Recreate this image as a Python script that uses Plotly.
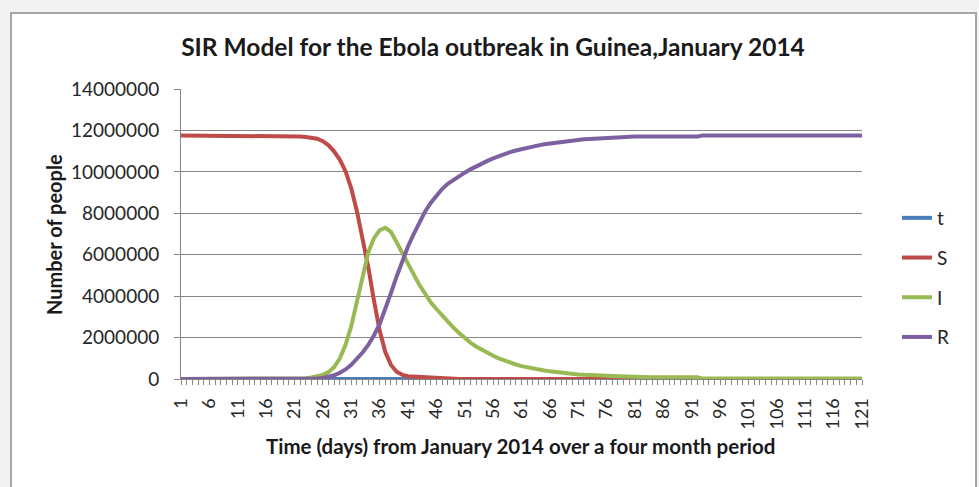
import plotly.graph_objects as go

# Day numbers (categories) and the "t" series (time in days)
days = [1, 2, 3, 4, 5, 6, 7, 8, 9, 10,
        11, 12, 13, 14, 15, 16, 17, 18, 19, 20,
        21, 22, 23, 24, 25, 26, 27, 28, 29, 30,
        31, 32, 33, 34, 35, 36, 37, 38, 39, 40,
        41, 42, 43, 44, 45, 46, 47, 48, 49, 50,
        51, 52, 53, 54, 55, 56, 57, 58, 59, 60,
        61, 62, 63, 64, 65, 66, 67, 68, 69, 70,
        71, 72, 73, 74, 75, 76, 77, 78, 79, 80,
        81, 82, 83, 84, 85, 86, 87, 88, 89, 90,
        91, 92, 93, 94, 95, 96, 97, 98, 99, 100,
        101, 102, 103, 104, 105, 106, 107, 108, 109, 110,
        111, 112, 113, 114, 115, 116, 117, 118, 119, 120,
        121]

t_vals = [1, 2, 3, 4, 5, 6, 7, 8, 9, 10,
          11, 12, 13, 14, 15, 16, 17, 18, 19, 20,
          21, 22, 23, 24, 25, 26, 27, 28, 29, 30,
          31, 32, 33, 34, 35, 36, 37, 38, 39, 40,
          41, 42, 43, 44, 45, 46, 47, 48, 49, 50,
          51, 52, 53, 54, 55, 56, 57, 58, 59, 60,
          61, 62, 63, 64, 65, 66, 67, 68, 69, 70,
          71, 72, 73, 74, 75, 76, 77, 78, 79, 80,
          81, 82, 83, 84, 85, 86, 87, 88, 89, 90,
          91, 92, 93, 94, 95, 96, 97, 98, 99, 100,
          101, 102, 103, 104, 105, 106, 107, 108, 109, 110,
          111, 112, 113, 114, 115, 116, 117, 118, 119, 120,
          121]

# Susceptible (millions of people)
S_mil = [11.75, 11.75, 11.75, 11.75, 11.75, 11.75, 11.75, 11.75, 11.75, 11.75,
         11.75, 11.75, 11.75, 11.75, 11.75, 11.75, 11.75, 11.75, 11.75, 11.75,
         11.73, 11.71, 11.68, 11.65, 11.60, 11.48, 11.28, 10.98, 10.58, 10.02,
         9.20, 8.10, 6.85, 5.40, 3.80, 2.35, 1.30, 0.68, 0.35, 0.20,
         0.13, 0.11, 0.10, 0.09, 0.08, 0.06, 0.03, 0.02, 0.01, 0.00,
         0.00, 0.00, 0.00, 0.00, 0.00, 0.00, 0.00, 0.00, 0.00, 0.00,
         0.00, 0.00, 0.00, 0.00, 0.00, 0.00, 0.00, 0.00, 0.00, 0.00,
         0.00, 0.00, 0.00, 0.00, 0.00, 0.00, 0.00, 0.00, 0.00, 0.00,
         0.00, 0.00, 0.00, 0.00, 0.00, 0.00, 0.00, 0.00, 0.00, 0.00,
         0.00, 0.00, 0.00, 0.00, 0.00, 0.00, 0.00, 0.00, 0.00, 0.00,
         0.00, 0.00, 0.00, 0.00, 0.00, 0.00, 0.00, 0.00, 0.00, 0.00,
         0.00, 0.00, 0.00, 0.00, 0.00, 0.00, 0.00, 0.00, 0.00, 0.00,
         0.00]

# Infected (millions of people)
I_mil = [0.00, 0.00, 0.00, 0.00, 0.00, 0.00, 0.00, 0.00, 0.00, 0.00,
         0.00, 0.00, 0.00, 0.00, 0.00, 0.00, 0.00, 0.00, 0.00, 0.00,
         0.01, 0.02, 0.04, 0.07, 0.12, 0.20, 0.33, 0.58, 1.00, 1.65,
         2.55, 3.70, 5.00, 6.10, 6.80, 7.18, 7.30, 7.10, 6.60, 6.05,
         5.55, 5.05, 4.55, 4.10, 3.70, 3.38, 3.07, 2.77, 2.48, 2.22,
         1.97, 1.76, 1.57, 1.41, 1.26, 1.12, 1.00, 0.89, 0.79, 0.70,
         0.62, 0.56, 0.50, 0.45, 0.41, 0.37, 0.33, 0.30, 0.27, 0.24,
         0.22, 0.20, 0.18, 0.17, 0.16, 0.15, 0.14, 0.13, 0.12, 0.08,
         0.08, 0.08, 0.08, 0.08, 0.08, 0.08, 0.08, 0.08, 0.08, 0.08,
         0.08, 0.08, 0.02, 0.02, 0.02, 0.02, 0.02, 0.02, 0.02, 0.02,
         0.02, 0.02, 0.02, 0.02, 0.02, 0.02, 0.02, 0.02, 0.02, 0.02,
         0.02, 0.02, 0.02, 0.02, 0.02, 0.02, 0.02, 0.02, 0.02, 0.02,
         0.02]

# Recovered (millions of people)
R_mil = [0.00, 0.00, 0.00, 0.00, 0.00, 0.00, 0.00, 0.00, 0.00, 0.00,
         0.00, 0.00, 0.00, 0.00, 0.00, 0.00, 0.00, 0.00, 0.00, 0.00,
         0.00, 0.00, 0.00, 0.00, 0.02, 0.05, 0.10, 0.18, 0.30, 0.46,
         0.68, 0.95, 1.28, 1.65, 2.10, 2.65, 3.35, 4.15, 4.95, 5.70,
         6.40, 7.00, 7.58, 8.08, 8.50, 8.87, 9.17, 9.42, 9.62, 9.80,
         9.96, 10.12, 10.27, 10.41, 10.53, 10.65, 10.76, 10.86, 10.95, 11.03,
         11.10, 11.16, 11.22, 11.28, 11.33, 11.37, 11.41, 11.45, 11.48, 11.51,
         11.54, 11.57, 11.59, 11.61, 11.63, 11.65, 11.66, 11.68, 11.70, 11.71,
         11.71, 11.71, 11.71, 11.71, 11.71, 11.71, 11.71, 11.71, 11.71, 11.71,
         11.71, 11.71, 11.76, 11.76, 11.76, 11.76, 11.76, 11.76, 11.76, 11.76,
         11.76, 11.76, 11.76, 11.76, 11.76, 11.76, 11.76, 11.76, 11.76, 11.76,
         11.76, 11.76, 11.76, 11.76, 11.76, 11.76, 11.76, 11.76, 11.76, 11.76,
         11.76]

x_tick_vals = [1, 6, 11, 16, 21, 26, 31, 36, 41, 46, 51, 56, 61, 66, 71, 76,
               81, 86, 91, 96, 101, 106, 111, 116, 121]
x_tick_text = ["1", "6", "11", "16", "21", "26", "31", "36", "41", "46", "51",
               "56", "61", "66", "71", "76", "81", "86", "91", "96", "101",
               "106", "111", "116", "121"]
y_tick_vals = [0, 2000000, 4000000, 6000000, 8000000, 10000000, 12000000, 14000000]
y_tick_text = ["0", "2000000", "4000000", "6000000", "8000000", "10000000",
               "12000000", "14000000"]

series_names = ["t", "S", "I", "R"]
series_colors = ["#4A7EBB", "#BE4B48", "#98B954", "#7D60A0"]

S_vals = [v * 1e6 for v in S_mil]
I_vals = [v * 1e6 for v in I_mil]
R_vals = [v * 1e6 for v in R_mil]
all_series = [t_vals, S_vals, I_vals, R_vals]

FONT = "Lato"
TXT = "#262626"
AX = "#868686"

fig = go.Figure()
for name, vals, col in zip(series_names, all_series, series_colors):
    fig.add_trace(go.Scatter(
        x=days, y=vals, mode="lines", name=name, legendgroup=name,
        line=dict(color=col, width=4),
    ))

# plot area in pixels
L, R_, T, B = 181, 117, 89, 108
W, H = 979, 487
pw = W - L - R_
ph = H - T - B

def px_x(px):
    return (px - L) / pw

def px_y(py):
    return (H - B - py) / ph

fig.update_layout(
    width=W, height=H, autosize=False,
    margin=dict(l=L, r=R_, t=T, b=B, pad=0),
    paper_bgcolor="#f2f2f2",
    plot_bgcolor="white",
    font=dict(family=FONT, color=TXT, size=16),
    title=dict(
        text="<b>SIR Model for the Ebola outbreak in Guinea,January 2014</b>",
        font=dict(family=FONT, size=24.5, color="#1a1a1a"),
        x=493 / W, xanchor="center", xref="container",
        y=1 - 47 / H, yanchor="middle", yref="container",
    ),
    xaxis=dict(
        range=[1, 121], tickmode="array", tickvals=x_tick_vals, ticktext=x_tick_text,
        tickangle=-90, ticks="outside", ticklen=5, tickcolor=AX, tickwidth=1,
        showline=True, linecolor=AX, linewidth=1, showgrid=False, zeroline=False,
        minor=dict(tick0=1, dtick=1, ticks="outside", ticklen=5, tickcolor=AX,
                   tickwidth=1, showgrid=False),
        tickfont=dict(family=FONT, size=18, color=TXT),
        ticklabelstandoff=6,
    ),
    yaxis=dict(
        range=[0, 14000000], tickmode="array", tickvals=y_tick_vals, ticktext=y_tick_text,
        ticks="outside", ticklen=6, tickcolor=AX, tickwidth=1,
        showline=True, linecolor=AX, linewidth=1,
        showgrid=True, gridcolor=AX, gridwidth=1, zeroline=False,
        tickfont=dict(family=FONT, size=19, color=TXT),
        ticklabelstandoff=11,
    ),
    legend=dict(
        x=px_x(897), xanchor="left", y=px_y(199), yanchor="top",
        font=dict(family=FONT, size=19, color=TXT),
        tracegroupgap=12, bgcolor="rgba(0,0,0,0)", borderwidth=0,
        traceorder="grouped",
    ),
    showlegend=True,
    shapes=[dict(
        type="rect", xref="paper", yref="paper",
        x0=px_x(11), x1=px_x(976), y0=px_y(492), y1=px_y(13),
        fillcolor="white", line=dict(color="#a6a6a6", width=2), layer="below",
    )],
    annotations=[
        dict(text="<b>Number of people</b>", xref="paper", yref="paper",
             x=px_x(54), y=px_y(235), xanchor="center", yanchor="middle",
             textangle=-90, showarrow=False,
             font=dict(family=FONT, size=20, color="#1a1a1a")),
        dict(text="<b>Time (days) from January 2014 over a four month period</b>",
             xref="paper", yref="paper", x=px_x(520), y=px_y(446),
             xanchor="center", yanchor="middle", showarrow=False,
             font=dict(family=FONT, size=20.5, color="#1a1a1a")),
    ],
)

fig.write_html(
    "out.html",
    config={"displayModeBar": False},
    post_script="document.body.style.margin='0px';document.body.style.overflow='hidden';",
)
